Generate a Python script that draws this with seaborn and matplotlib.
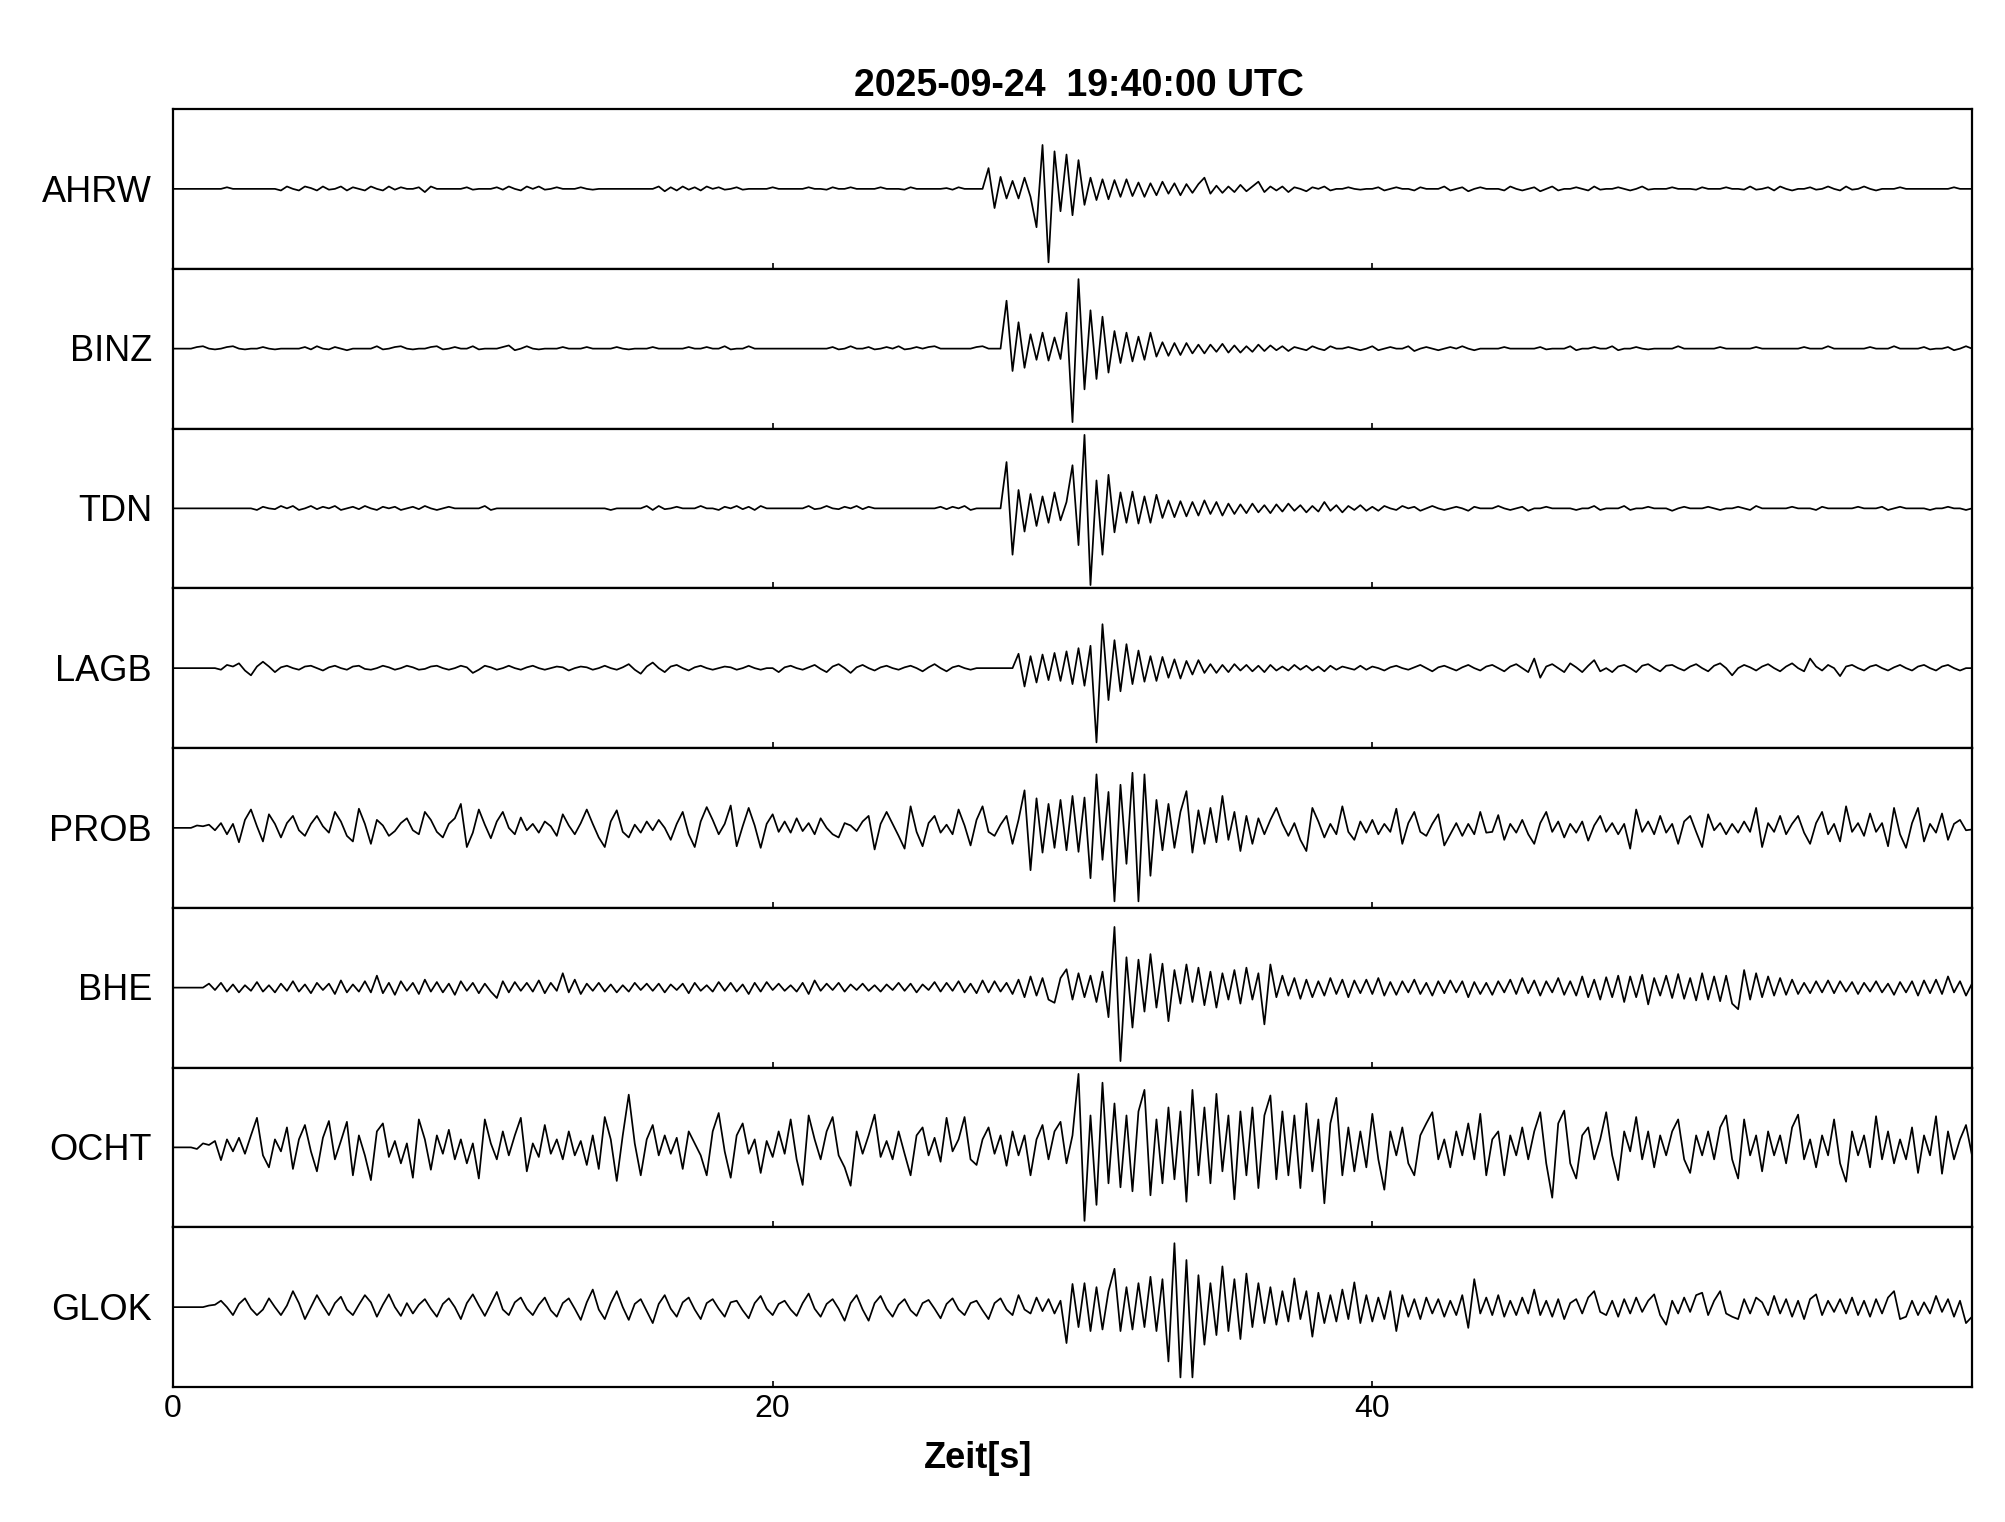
import numpy as np
import pandas as pd
import matplotlib
matplotlib.use("Agg")
import matplotlib.pyplot as plt
import seaborn as sns

# ---------------- data (amplitude in % of half panel height, sampled every 0.2 s) -------------
stations = ["AHRW", "BINZ", "TDN", "LAGB", "PROB", "BHE", "OCHT", "GLOK"]
dt = 0.2
title = "2025-09-24  19:40:00 UTC"
xlabel = "Zeit[s]"
x_ticks = [0, 20, 40]
x_tick_labels = ["0", "20", "40"]

AHRW = [0,0,0,0,0,0,0,0,0,2,0,0,0,0,0,0,0,0,-2,3,
        0,-2,3,1,-2,3,-1,0,3,-2,2,0,-2,3,0,-2,3,-1,2,0,
        0,2,-4,3,0,0,0,0,0,2,-1,0,0,0,2,-1,3,0,-2,3,
        0,3,-1,0,2,0,0,0,2,0,-1,0,0,0,0,0,0,0,0,0,
        0,3,-3,2,-2,3,-1,2,-2,3,0,2,-1,0,2,-1,0,0,0,0,
        2,0,0,0,0,0,2,0,0,-1,2,0,0,2,0,0,0,0,2,0,
        0,0,-1,2,0,0,0,0,0,1,-1,2,0,0,0,0,26,-24,15,-12,
        10,-12,14,-10,-48,55,-92,47,-28,43,-33,36,-20,14,-14,12,-13,11,-10,12,
        -9,8,-10,7,-8,9,-6,7,-8,6,-5,6,14,-6,4,-5,3,-4,5,-3,
        3,9,-4,3,-2,3,-4,2,0,-3,2,0,3,-2,0,0,2,0,-1,0,
        0,2,-2,0,2,0,0,-2,2,0,0,0,3,-2,0,2,-3,0,2,0,
        0,0,-2,3,0,-2,0,2,-3,0,3,-2,0,0,2,0,-2,3,-1,0,
        0,2,0,-2,0,3,-1,0,0,0,2,0,0,0,-1,2,0,0,0,2,
        0,0,-1,3,-1,0,2,-2,3,0,-2,0,0,2,-1,0,3,0,-2,3,
        -1,0,3,0,-2,0,0,0,2,0,0,0,0,0,0,0,0,2,0,0,
        0]

BINZ = [0,0,0,0,2,3,0,-1,0,2,3,0,-1,0,0,2,0,-1,0,0,
        0,0,2,-1,3,0,-1,2,0,-2,0,0,0,0,3,-1,0,2,3,0,
        -1,0,0,2,3,-1,0,2,0,0,3,-1,0,0,0,2,4,-2,0,3,
        0,-1,0,0,0,2,0,0,0,2,0,0,0,0,2,0,-1,0,0,0,
        2,0,0,0,0,0,2,0,0,2,0,0,3,-1,0,0,3,0,0,0,
        0,0,0,0,0,0,0,0,0,0,2,-1,0,3,0,0,2,-1,0,2,
        0,3,-1,0,2,0,2,3,0,0,0,0,0,0,2,3,0,0,0,60,
        -28,33,-24,18,-14,20,-15,14,-13,45,-92,87,-51,48,-38,40,-30,22,-18,20,
        -16,15,-14,20,-10,8,-9,7,-8,7,-6,5,-6,5,-4,6,-5,4,-5,3,
        -4,5,-3,4,-2,3,-3,2,0,-2,3,0,-2,3,0,0,2,0,-2,0,
        3,-2,0,2,0,0,3,-3,0,2,0,-2,0,2,0,3,0,-2,0,0,
        0,0,2,0,0,0,0,0,2,-1,0,0,0,3,-2,0,0,2,0,0,
        3,-2,0,0,2,0,-1,0,0,0,0,3,0,0,0,0,0,0,2,0,
        0,0,0,0,2,0,0,0,0,0,0,0,2,0,0,0,3,0,0,0,
        0,0,0,2,0,0,0,3,0,0,0,0,2,-1,0,0,2,-2,0,3,
        0]

TDN = [0,0,0,0,0,0,0,0,0,0,0,0,0,0,-2,2,0,-1,3,0,
       3,-2,0,3,-1,2,0,3,-2,0,2,-1,3,0,-2,2,0,2,-2,0,
       2,-1,3,0,-2,0,2,0,0,0,0,0,3,-2,0,0,0,0,0,0,
       0,0,0,0,0,0,0,0,0,0,0,0,0,-2,0,0,0,0,0,3,
       -2,3,-1,0,2,0,0,0,3,0,0,-2,2,0,3,-1,2,-2,3,0,
       0,0,0,0,0,0,3,-1,0,3,0,-1,2,0,3,-1,2,0,0,0,
       0,0,0,0,0,0,0,0,2,-1,2,0,3,-2,0,0,0,0,0,58,
       -58,23,-29,18,-22,15,-18,20,-15,8,54,-46,92,-96,35,-58,42,-30,20,-18,
       21,-19,15,-18,17,-12,10,-11,9,-10,8,-9,10,-7,8,-9,6,-7,5,-6,
       6,-5,4,-6,5,-4,6,-3,4,-5,3,-4,8,-3,4,-5,3,-2,4,-3,
       2,-3,3,0,-2,3,0,2,-3,0,3,0,-2,0,2,0,-3,2,0,0,
       0,3,0,-2,0,2,-3,0,0,2,0,0,0,0,-2,0,0,3,-2,0,
       0,0,3,-2,0,0,2,0,0,0,-3,0,2,0,0,0,2,0,-2,0,
       0,2,0,-2,3,0,0,0,0,0,2,0,0,0,-2,2,0,0,0,0,
       0,2,0,0,0,2,-2,0,2,0,0,0,0,-2,0,0,2,0,0,-2,
       0]

LAGB = [0,0,0,0,0,0,0,0,-2,4,2,6,-3,-9,2,8,2,-5,1,3,
        0,-2,2,3,0,-3,1,3,0,-2,2,3,-1,-2,0,3,1,-2,0,3,
        1,-2,-1,2,3,0,-2,0,3,1,-6,-2,3,1,-2,0,3,0,-2,1,
        3,0,-2,0,2,1,-3,0,2,1,-2,0,3,0,-2,1,5,-2,-7,2,
        7,0,-5,2,4,0,-3,1,3,0,-2,0,2,1,-2,0,3,0,-2,0,
        0,-5,1,3,0,-2,1,4,-1,-5,2,5,0,-6,1,4,0,-3,1,3,
        0,-2,1,3,0,-4,1,5,0,-4,1,3,0,-2,0,0,0,0,0,0,
        0,18,-23,15,-18,17,-15,19,-16,21,-20,25,-22,28,-93,55,-40,35,-29,30,
        -20,22,-17,15,-16,14,-12,11,-13,9,-8,10,-6,5,-6,4,-5,5,-3,4,
        -4,3,-5,4,-3,2,-3,4,-2,3,-3,2,-4,3,-2,2,0,-2,3,-2,
        2,0,-3,1,3,0,-2,1,4,0,-4,1,3,0,-3,1,4,0,-3,2,
        4,0,-4,2,5,0,-5,12,-12,2,5,0,-5,6,1,-5,3,10,-4,0,
        -5,2,4,0,-5,3,5,0,-4,3,4,0,-3,2,5,0,-4,3,6,0,
        -9,0,4,1,-3,2,5,0,-4,2,6,0,-4,12,2,-3,4,0,-10,2,
        4,0,-3,2,4,0,-3,1,4,0,-3,2,4,0,-3,2,4,0,-3,0,
        0]

PROB = [0,0,0,0,3,2,4,-3,6,-8,5,-18,10,23,2,-17,17,5,-12,6,
        15,-3,-10,5,15,2,-6,20,8,-10,-17,24,5,-20,10,3,-10,-4,6,12,
        -3,-8,20,10,-5,-12,5,12,30,-24,-6,23,4,-13,8,20,0,-8,13,-3,
        5,-6,8,2,-10,17,3,-8,6,23,5,-12,-24,8,22,-5,-12,4,-6,8,
        -3,10,0,-15,5,20,-8,-24,8,26,10,-8,5,28,-23,2,25,3,-25,5,
        17,-5,8,-6,12,-4,6,-8,12,0,-8,-12,6,3,-4,8,15,-27,5,20,
        5,-10,-26,27,-5,-23,6,15,-6,4,-8,23,3,-22,10,27,-5,-10,4,15,
        -20,10,47,-53,37,-31,30,-25,35,-28,40,-30,38,-63,67,-40,45,-92,54,-45,
        69,-92,67,-60,35,-28,30,-25,20,46,-31,22,-20,25,-18,40,-15,20,-29,15,
        -20,12,-8,10,25,5,-10,6,-15,-29,25,8,-12,5,-8,27,-5,-15,8,-6,
        10,-8,5,-5,24,-20,6,20,-5,-10,5,17,-22,-8,6,-10,5,-8,20,-6,
        -5,16,-15,5,-6,10,-8,-20,6,20,-5,8,-12,5,-6,8,-16,3,15,-5,
        6,-8,5,-26,23,-5,8,-8,15,-6,5,-20,8,15,-5,-24,17,-3,6,-8,
        5,-6,8,-5,25,-24,6,-5,15,-8,5,15,-6,-20,6,20,-8,5,-17,27,
        -5,6,-10,18,-5,6,-23,25,-8,-25,6,25,-17,5,-6,18,-15,5,10,-3,
        -2]

BHE = [0,0,0,0,0,0,5,-3,6,-5,4,-6,3,-4,7,-5,3,-6,5,-4,
       8,-5,4,-7,6,-3,5,-8,9,-6,4,-5,8,-6,15,-7,6,-9,8,-4,
       6,-8,10,-5,7,-6,5,-9,8,-4,6,-7,5,-5,-13,8,-6,7,-4,6,
       -5,9,-7,6,-4,18,-6,10,-8,5,-4,6,-5,4,-6,3,-5,6,-3,5,
       -4,5,-6,4,-3,5,-7,6,-4,3,-5,7,-4,6,-5,4,-8,6,-5,7,
       -3,5,-4,3,-5,6,-8,9,-4,5,-3,6,-5,4,-3,5,-4,3,-5,4,
       -3,6,-4,5,-6,4,-3,7,-5,6,-4,8,-6,5,-7,9,-6,8,-5,6,
       -8,10,-12,14,-10,12,-15,-19,12,23,-15,18,-12,15,-18,20,-37,76,-92,38,
       -50,35,-30,42,-25,30,-42,22,-20,29,-18,25,-22,20,-25,18,-15,22,-20,25,
       -15,18,-46,29,-12,15,-10,12,-14,10,-12,8,-10,12,-8,10,-12,9,-7,10,
       -8,12,-10,7,-9,8,-6,10,-8,6,-10,8,-7,9,-6,8,-12,7,-8,6,
       -9,8,-6,10,-8,12,-7,9,-10,8,-6,12,-9,8,-10,14,-12,10,-15,13,
       -12,15,-18,14,-12,16,-21,12,-10,15,-13,17,-14,12,-16,18,-15,14,-17,15,
       -20,-27,22,-15,18,-12,14,-10,12,-9,10,-8,6,-7,8,-6,9,-7,8,-5,
       7,-8,6,-5,8,-6,5,-9,7,-6,8,-10,9,-7,10,-8,14,-6,8,-10,
       5]

OCHT = [0,0,0,0,-2,5,3,8,-16,10,-5,12,-8,15,37,-10,-25,10,-5,25,
        -27,10,28,-5,-30,12,33,-15,8,32,-35,15,-10,-41,20,30,-12,8,-20,5,
        -38,35,10,-28,15,-8,22,-15,10,-20,5,-39,35,5,-15,20,-10,15,37,-30,
        5,-12,28,-8,10,-15,20,-10,8,-22,15,-27,38,10,-42,15,66,5,-35,10,
        28,-10,15,-8,12,-27,20,5,-10,-35,20,43,-5,-38,15,30,-8,10,-32,8,
        -12,20,-8,35,-15,-47,40,10,-15,20,38,-10,-25,-48,20,-8,15,41,-12,8,
        -15,20,-8,-35,15,25,-10,12,-18,37,-5,10,38,-15,-22,10,25,-8,15,-23,
        20,-10,15,-35,10,28,-15,20,32,-20,15,92,-92,40,-72,81,-45,55,-50,40,
        -55,45,72,-60,35,-45,50,-40,45,-68,72,-35,50,-45,67,-30,40,-65,45,-35,
        50,-51,40,65,-40,45,-35,40,-51,55,-30,35,-70,30,62,-35,25,-30,20,-25,
        42,-15,-53,20,-10,25,-20,-35,15,30,44,-15,10,-25,20,-10,30,-15,42,-35,
        10,20,-35,15,-10,25,-15,20,44,-20,-63,30,46,-20,-39,15,25,-15,10,44,
        -10,-41,20,-5,38,-15,20,-25,15,-10,20,35,-15,-32,15,-10,20,-15,25,40,
        -15,-39,35,-10,15,-30,20,-10,15,-20,25,41,-15,10,-25,15,-10,35,-20,-43,
        20,-10,15,-25,39,-15,20,-20,10,-15,25,-32,15,-10,39,-33,20,-15,10,28,
        -10]

GLOK = [0,0,0,0,0,0,2,3,8,0,-10,4,11,-2,-10,-3,11,0,-10,2,
        20,5,-15,0,15,2,-10,5,13,-3,-10,3,15,6,-12,3,16,0,-11,5,
        -8,3,10,-2,-12,4,11,0,-15,5,16,2,-11,4,19,-3,-10,6,12,-2,
        -10,3,12,-4,-12,5,11,-2,-16,6,22,-3,-15,5,20,0,-16,4,10,-5,
        -20,4,15,-2,-12,6,12,-3,-15,5,10,-2,-12,6,8,-4,-14,5,14,-2,
        -10,4,8,-3,-11,5,17,-2,-12,4,10,-2,-17,5,15,-3,-17,5,14,-2,
        -12,3,10,-4,-11,5,9,-2,-14,4,11,-3,-10,5,8,-4,-15,5,11,-3,
        -10,15,-3,-8,12,-5,10,-8,8,-45,29,-25,30,-30,25,-28,20,48,-30,25,
        -28,30,-25,38,-30,35,-68,80,-88,59,-88,40,-47,30,-35,51,-30,35,-40,42,
        -25,30,-20,25,-22,20,-18,36,-15,20,-37,18,-20,15,-18,22,-15,31,-20,15,
        -18,12,-15,20,-30,15,-12,10,-15,12,-8,10,-12,8,-10,15,-26,35,-8,12,
        -10,15,-12,8,-10,12,-8,22,-10,8,-12,10,-15,5,10,-8,12,20,-6,-10,
        8,-12,10,-8,12,-6,8,16,-10,-22,8,-8,12,-6,15,18,-10,8,20,-8,
        -12,-15,10,-8,12,6,-10,14,-8,10,-12,8,-15,10,16,-10,8,-6,10,-8,
        12,-10,8,-12,10,-8,12,20,-15,-12,8,-10,6,-8,14,-6,10,-12,8,-20,
        -12]

traces = {"AHRW": AHRW, "BINZ": BINZ, "TDN": TDN, "LAGB": LAGB,
          "PROB": PROB, "BHE": BHE, "OCHT": OCHT, "GLOK": GLOK}

# ---------------- plotting ----------------
sns.set_theme(style="white")
plt.rcParams['font.family'] = ['Liberation Sans', 'DejaVu Sans']

W, H = 2005, 1522
fig, axes = plt.subplots(len(stations), 1, figsize=(W / 100, H / 100), dpi=100, sharex=True)
fig.subplots_adjust(left=173 / W, right=1972 / W, top=1 - 109 / H, bottom=1 - 1387 / H, hspace=0)

for ax, name in zip(axes, stations):
    vals = traces[name]
    df = pd.DataFrame({"t": np.arange(len(vals)) * dt, "a": vals})
    sns.lineplot(data=df, x="t", y="a", ax=ax, color="black", linewidth=1.25,
                 estimator=None, sort=False)
    ax.set_xlim(0, 60)
    ax.set_ylim(-100, 100)
    ax.set_yticks([])
    ax.set_ylabel("")
    ax.set_xlabel("")
    for s in ax.spines.values():
        s.set_visible(True)
        s.set_color("black")
        s.set_linewidth(1.6)
    ax.tick_params(axis="x", which="both", direction="in", length=4, width=1.2,
                   bottom=True, top=False, labelbottom=False, color="black")
    ax.text(-0.7, -16, name, ha="right", va="baseline", fontsize=26, color="black")

axes[-1].set_xticks(x_ticks)
axes[-1].set_xticklabels(x_tick_labels)
axes[-1].tick_params(axis="x", labelbottom=True, labelsize=23, pad=5, labelcolor="black")

fig.text(1079 / W, 1 - 96 / H, title, ha="center", va="baseline",
         fontsize=27, fontweight="bold", color="black")
fig.text(978 / W, 1 - 1468 / H, xlabel, ha="center", va="baseline",
         fontsize=26, fontweight="bold", color="black")

fig.savefig("out.png", dpi=100, facecolor="white")
